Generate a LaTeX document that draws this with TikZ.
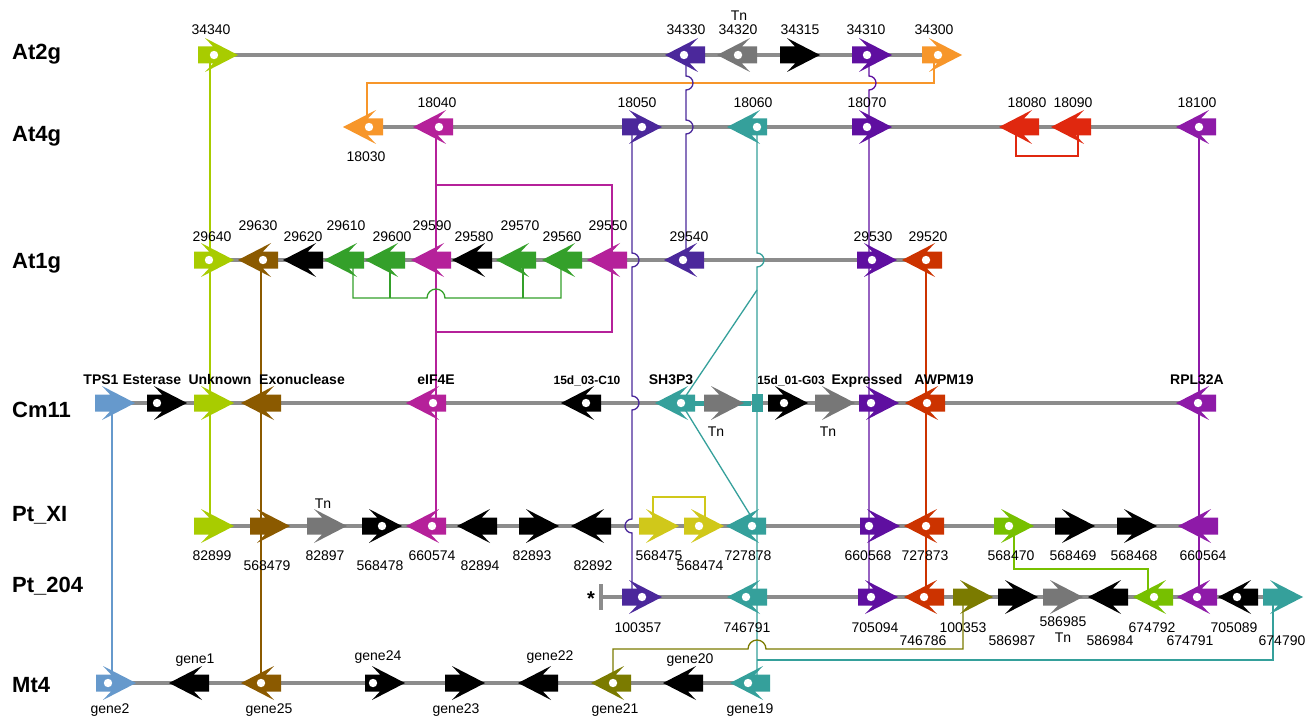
\documentclass[tikz,border=0pt]{standalone}
\usepackage{fontspec}
\setmainfont{Liberation Sans}
\usetikzlibrary{calc}
\pgfdeclarelayer{bgl}
\pgfdeclarelayer{bbl}
\pgfdeclarelayer{cnl}
\pgfsetlayers{bgl,bbl,cnl,main}
\definecolor{clime}{RGB}{168,204,0}
\definecolor{cbrown}{RGB}{139,90,0}
\definecolor{cgreen}{RGB}{52,160,42}
\definecolor{cmag}{RGB}{181,33,154}
\definecolor{cindigo}{RGB}{75,40,155}
\definecolor{cpurple}{RGB}{95,15,160}
\definecolor{cteal}{RGB}{53,160,155}
\definecolor{corange}{RGB}{247,150,42}
\definecolor{cred}{RGB}{224,40,15}
\definecolor{cro}{RGB}{204,51,0}
\definecolor{cviolet}{RGB}{142,26,168}
\definecolor{cgray}{RGB}{119,119,119}
\definecolor{cbb}{RGB}{140,140,140}
\definecolor{cblue}{RGB}{102,153,204}
\definecolor{cyellow}{RGB}{208,200,26}
\definecolor{clgreen}{RGB}{119,192,0}
\definecolor{colive}{RGB}{123,123,0}
% right-pointing gene: name, left x, y, colour, dot offset (0 = none), connector offset
\newcommand\gR[6]{%
\begin{scope}[shift={(#2,#3)}]
\fill[#4] (0,-8.5) -- (15,-8.5) -- (7,-17) -- (40,0) -- (7,17) -- (15,8.5) -- (0,8.5) -- cycle;
\ifnum#5>0 \fill[white] (#5,0) circle[radius=4.2pt];\fi
\coordinate (#1) at (#6,0);
\coordinate (#1-c) at (20,0);
\end{scope}}
% left-pointing gene: name, tip x, y, colour, dot offset from tip (0 = none), connector offset
\newcommand\gL[6]{%
\begin{scope}[shift={(#2,#3)}]
\fill[#4] (40,-8.5) -- (25,-8.5) -- (33,-17) -- (0,0) -- (33,17) -- (25,8.5) -- (40,8.5) -- cycle;
\ifnum#5>0 \fill[white] (#5,0) circle[radius=4.2pt];\fi
\coordinate (#1) at (#6,0);
\coordinate (#1-c) at (20,0);
\end{scope}}
\begin{document}
\begin{tikzpicture}[x=1pt,y=-1pt,
  lab/.style={font=\fontsize{14}{16}\selectfont, inner sep=0pt, anchor=base},
  blab/.style={font=\bfseries\fontsize{14}{16}\selectfont, inner sep=0pt, anchor=base},
  slab/.style={font=\bfseries\fontsize{12}{14}\selectfont, inner sep=0pt, anchor=base},
  rlab/.style={font=\bfseries\fontsize{22}{24}\selectfont, inner sep=0pt, anchor=base west},
  bb/.style={draw=cbb, line width=4pt},
  cn/.style={line width=1.3pt}]
\begin{pgfonlayer}{bgl}
\fill[white] (0,0) rectangle (1305,719);
\end{pgfonlayer}
\useasboundingbox (0,0) rectangle (1305,719);

% ---------- row labels
\node[rlab] (rAt2g) at (12,60) {At2g};
\node[rlab] (rAt4g) at (12,142) {At4g};
\node[rlab] (rAt1g) at (12,269) {At1g};
\node[rlab] (rCm11) at (12,417) {Cm11};
\node[rlab] (rPtXI) at (12,521) {Pt\_XI};
\node[rlab] (rPt204) at (12,592) {Pt\_204};
\node[rlab] (rMt4) at (12,692) {Mt4};

% ---------- At2g
\gR{g34340}{198}{55}{clime}{16}{12}
\gL{g34330}{665}{55}{cindigo}{19}{21}
\gL{g34320}{717}{55}{cgray}{21}{20}
\gR{g34315}{780}{55}{black}{0}{20}
\gR{g34310}{852}{55}{cpurple}{15}{17}
\gR{g34300}{922}{55}{corange}{16}{12}
% ---------- At4g
\gL{g18030}{343}{127}{corange}{26}{24}
\gL{g18040}{413}{127}{cmag}{26}{23}
\gR{g18050}{622}{127}{cindigo}{20}{10}
\gL{g18060}{727}{127}{cteal}{30}{30}
\gR{g18070}{852}{127}{cpurple}{15}{17}
\gL{g18080}{999}{127}{cred}{0}{17}
\gL{g18090}{1051}{127}{cred}{0}{27}
\gL{g18100}{1176}{127}{cviolet}{23}{23}
% ---------- At1g
\gR{g29640}{194}{260}{clime}{15}{15}
\gL{g29630}{238}{260}{cbrown}{25}{23}
\gL{g29620}{283}{260}{black}{0}{20}
\gL{g29610}{324}{260}{cgreen}{0}{29}
\gL{g29600}{365}{260}{cgreen}{0}{25}
\gL{g29590}{411}{260}{cmag}{0}{25}
\gL{g29580}{452}{260}{black}{0}{20}
\gL{g29570}{496}{260}{cgreen}{0}{27}
\gL{g29560}{542}{260}{cgreen}{0}{19}
\gL{g29550}{587}{260}{cmag}{0}{25}
\gL{g29540}{664}{260}{cindigo}{19}{22}
\gR{g29530}{857}{260}{cpurple}{15}{12}
\gL{g29520}{902}{260}{cro}{24}{24}
% ---------- Cm11
\gR{gTPS1}{95}{403}{cblue}{0}{17}
\gR{gEst}{147}{403}{black}{10}{20}
\gR{gUnk}{194}{403}{clime}{0}{15}
\gL{gExo}{241}{403}{cbrown}{0}{20}
\gL{geIF}{406}{403}{cmag}{27}{30}
\gL{gC10}{561}{403}{black}{25}{20}
\gL{gSH3P3}{655}{403}{cteal}{26}{26}
\node[fill=cteal, minimum width=11pt, minimum height=18pt, inner sep=0pt] (sq) at (757,403) {};
\gR{gTn1}{704}{403}{cgray}{0}{20}
\gR{gG03}{768}{403}{black}{16}{20}
\gR{gTn2}{815}{403}{cgray}{0}{20}
\gR{gExp}{859}{403}{cpurple}{12}{10}
\gL{gAWP}{905}{403}{cro}{22}{21}
\gL{gRPL}{1176}{403}{cviolet}{22}{23}
% ---------- Pt_XI
\gR{g82899}{194}{526}{clime}{0}{15}
\gR{g568479}{250}{526}{cbrown}{0}{11}
\gR{g82897}{307}{526}{cgray}{0}{20}
\gR{g568478}{362}{526}{black}{20}{20}
\gL{g660574}{406}{526}{cmag}{26}{30}
\gL{g82894}{457}{526}{black}{0}{20}
\gR{g82893}{519}{526}{black}{0}{20}
\gL{g82892}{571}{526}{black}{0}{20}
\gR{g568475}{639}{526}{cyellow}{0}{14}
\gR{g568474}{684}{526}{cyellow}{15}{21}
\gL{g727878}{726}{526}{cteal}{26}{31}
\gR{g660568}{860}{526}{cpurple}{9}{9}
\gL{g727873}{904}{526}{cro}{22}{21}
\gR{g568470}{994}{526}{clgreen}{15}{20}
\gR{g568469}{1055}{526}{black}{0}{20}
\gR{g568468}{1117}{526}{black}{0}{20}
\gL{g660564}{1178}{526}{cviolet}{0}{22}
% ---------- Pt_204
\coordinate (tick) at (601,597);
\gR{g100357}{622}{597}{cindigo}{20}{10}
\gL{g746791}{727}{597}{cteal}{19}{30}
\gR{g705094}{858}{597}{cpurple}{13}{11}
\gL{g746786}{904}{597}{cro}{20}{21}
\gR{g100353}{953}{597}{colive}{0}{10}
\gR{g586987}{998}{597}{black}{0}{20}
\gR{g586985}{1043}{597}{cgray}{0}{20}
\gL{g586984}{1088}{597}{black}{0}{20}
\gL{g674792}{1133}{597}{clgreen}{21}{15}
\gL{g674791}{1177}{597}{cviolet}{20}{23}
\gL{g705089}{1218}{597}{black}{19}{20}
\gR{g674790}{1263}{597}{cteal}{0}{10}
\node[font=\bfseries\fontsize{20}{20}\selectfont, inner sep=0pt] (star) at (591,599) {*};
% ---------- Mt4
\gR{ggene2}{96}{683}{cblue}{12}{16}
\gL{ggene1}{169}{683}{black}{0}{20}
\gL{ggene25}{241}{683}{cbrown}{20}{20}
\gR{ggene24}{365}{683}{black}{8}{20}
\gR{ggene23}{445}{683}{black}{0}{20}
\gL{ggene22}{518}{683}{black}{0}{20}
\gL{ggene21}{591}{683}{colive}{22}{22}
\gL{ggene20}{663}{683}{black}{0}{20}
\gL{ggene19}{730}{683}{cteal}{18}{27}

% ---------- backbones
\begin{pgfonlayer}{bbl}
\draw[bb] (g34340-c) -- (g34300-c);
\draw[bb] (g18030-c) -- (g18100-c);
\draw[bb] (g29640-c) -- (g29520-c);
\draw[bb] (gTPS1-c) -- (gRPL-c);
\draw[bb] (g82899-c) -- (g660564-c);
\draw[bb] (tick) -- (g674790-c);
\draw[bb] ($(tick)+(0,-13)$) -- ($(tick)+(0,13)$);
\draw[bb] (ggene2-c) -- (ggene19-c);
\end{pgfonlayer}

% ---------- connectors
\begin{pgfonlayer}{cnl}
\draw[line width=5pt, cteal] (gSH3P3-c) -- (sq);
\draw[cn,clime] (g34340) -- (g34340 |- g82899);
\draw[cn,cbrown] (g29630) -- (g29630 |- ggene25);
\draw[cn,cmag] (g18040) -- (g18040 |- g660574);
\draw[cn,cmag] ($(g18040)+(0,58)$) -| (g29550);
\draw[cn,cmag] (g29550) -- ++(0,72) -| (g29590);
\draw[cn,corange] (g34300) -- ++(0,28) -| (g18030);
\draw[cn,cindigo] (g34330) -- ($(g34330)+(0,21)$) arc[start angle=90,end angle=-90,radius=7pt]
   -- ($(g34330)+(0,65)$) arc[start angle=90,end angle=-90,radius=7pt] -- (g34330 |- g29540);
\draw[cn,cpurple] (g34310) -- ($(g34310)+(0,21)$) arc[start angle=90,end angle=-90,radius=7pt]
   -- (g34310 |- g705094);
\draw[cn,cindigo] (g18050) -- ($(g18050)+(0,126)$) arc[start angle=90,end angle=-90,radius=7pt]
   -- ($(g18050)+(0,269)$) arc[start angle=90,end angle=-90,radius=7pt]
   -- ($(g18050)+(0,392)$) arc[start angle=90,end angle=270,radius=7pt]
   -- (g18050 |- g100357);
\draw[cn,cteal] (g18060) -- ($(g18060)+(0,126)$) arc[start angle=90,end angle=-90,radius=7pt]
   -- (g18060 |- ggene19);
\coordinate (tbr) at ($(g18060)+(0,163)$);
\draw[cn,cteal] (tbr) -- (gSH3P3);
\draw[cn,cteal] (gSH3P3) -- (g727878);
\draw[cn,cteal] (g674790) |- ($(g746791)+(0,63)$);
\draw[cn,colive] (g100353) -- ($(g100353)+(0,52)$) -- ($(g746791)+(9,52)$)
   arc[start angle=0,end angle=180,radius=9pt] -| (ggene21);
\draw[cn,cred] (g18080) -- ++(0,29) -| (g18090);
\draw[cn,cgreen] (g29610) -- ++(0,38) -- ($(g29590)+(-9,38)$)
   arc[start angle=180,end angle=0,radius=9pt] -| (g29560);
\draw[cn,cgreen] (g29600) -- ++(0,38);
\draw[cn,cgreen] (g29570) -- ++(0,38);
\draw[cn,cyellow] (g568475) -- ++(0,-29) -| (g568474);
\draw[cn,clgreen] (g568470) -- ++(0,43) -| (g674792);
\draw[cn,cro] (g29520) -- (g29520 |- g746786);
\draw[cn,cviolet] (g18100) -- (g18100 |- g674791);
\draw[cn,cblue] (gTPS1) -- (gTPS1 |- ggene2);
\end{pgfonlayer}

% ---------- gene labels
\node[lab] (l34340) at (211,35) {34340};
\node[lab] (l34330) at (686,35) {34330};
\node[lab] (lTnA) at (739,21) {Tn};
\node[lab] (l34320) at (738,35) {34320};
\node[lab] (l34315) at (800,35) {34315};
\node[lab] (l34310) at (866,35) {34310};
\node[lab] (l34300) at (934,35) {34300};

\node[lab] (l18030) at (366,162) {18030};
\node[lab] (l18040) at (437,108) {18040};
\node[lab] (l18050) at (637,108) {18050};
\node[lab] (l18060) at (753,108) {18060};
\node[lab] (l18070) at (867,108) {18070};
\node[lab] (l18080) at (1027,108) {18080};
\node[lab] (l18090) at (1073,108) {18090};
\node[lab] (l18100) at (1197,108) {18100};

\node[lab] (l29640) at (212,241) {29640};
\node[lab] (l29630) at (258,230) {29630};
\node[lab] (l29620) at (303,241) {29620};
\node[lab] (l29610) at (346,230) {29610};
\node[lab] (l29600) at (392,241) {29600};
\node[lab] (l29590) at (432,230) {29590};
\node[lab] (l29580) at (474,241) {29580};
\node[lab] (l29570) at (520,230) {29570};
\node[lab] (l29560) at (562,241) {29560};
\node[lab] (l29550) at (608,230) {29550};
\node[lab] (l29540) at (689,241) {29540};
\node[lab] (l29530) at (873,241) {29530};
\node[lab] (l29520) at (928,241) {29520};

\node[blab] (lTPS1) at (101,384) {TPS1};
\node[blab] (lEst) at (152,384) {Esterase};
\node[blab] (lUnk) at (220,384) {Unknown};
\node[blab] (lExo) at (302,384) {Exonuclease};
\node[blab] (leIF) at (436,384) {eIF4E};
\node[slab] (lC10) at (587,384) {15d\_03-C10};
\node[blab] (lSH) at (671,384) {SH3P3};
\node[slab] (lG03) at (791,384) {15d\_01-G03};
\node[blab] (lExp) at (867,384) {Expressed};
\node[blab] (lAWP) at (944,384) {AWPM19};
\node[blab] (lRPL) at (1197,384) {RPL32A};
\node[lab] (lTnB) at (716,436) {Tn};
\node[lab] (lTnC) at (828,436) {Tn};

\node[lab] (lTnD) at (323,508) {Tn};
\node[lab] (l82899) at (212,560) {82899};
\node[lab] (l568479) at (267,570) {568479};
\node[lab] (l82897) at (325,560) {82897};
\node[lab] (l568478) at (380,570) {568478};
\node[lab] (l660574) at (432,560) {660574};
\node[lab] (l82894) at (480,570) {82894};
\node[lab] (l82893) at (532,560) {82893};
\node[lab] (l82892) at (593,570) {82892};
\node[lab] (l568475) at (659,560) {568475};
\node[lab] (l568474) at (700,570) {568474};
\node[lab] (l727878) at (748,560) {727878};
\node[lab] (l660568) at (868,560) {660568};
\node[lab] (l727873) at (925,560) {727873};
\node[lab] (l568470) at (1011,560) {568470};
\node[lab] (l568469) at (1073,560) {568469};
\node[lab] (l568468) at (1134,560) {568468};
\node[lab] (l660564) at (1203,560) {660564};

\node[lab] (l100357) at (638,632) {100357};
\node[lab] (l746791) at (747,632) {746791};
\node[lab] (l705094) at (875,632) {705094};
\node[lab] (l746786) at (923,645) {746786};
\node[lab] (l100353) at (963,632) {100353};
\node[lab] (l586987) at (1012,645) {586987};
\node[lab] (l586985) at (1063,626) {586985};
\node[lab] (lTnE) at (1063,642) {Tn};
\node[lab] (l586984) at (1110,645) {586984};
\node[lab] (l674792) at (1152,632) {674792};
\node[lab] (l674791) at (1190,645) {674791};
\node[lab] (l705089) at (1234,632) {705089};
\node[lab] (l674790) at (1282,645) {674790};

\node[lab] (lgene2) at (110,713) {gene2};
\node[lab] (lgene1) at (195,663) {gene1};
\node[lab] (lgene25) at (269,713) {gene25};
\node[lab] (lgene24) at (378,660) {gene24};
\node[lab] (lgene23) at (456,713) {gene23};
\node[lab] (lgene22) at (550,660) {gene22};
\node[lab] (lgene21) at (615,713) {gene21};
\node[lab] (lgene20) at (690,663) {gene20};
\node[lab] (lgene19) at (750,713) {gene19};
\end{tikzpicture}
\end{document}
